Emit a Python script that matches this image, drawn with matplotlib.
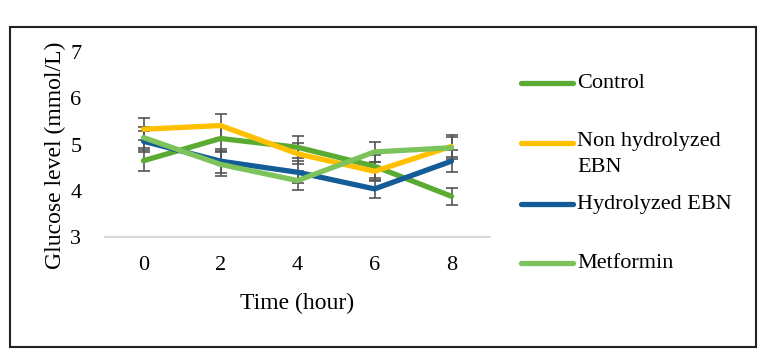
import matplotlib
matplotlib.use('Agg')
import matplotlib.pyplot as plt
from matplotlib.lines import Line2D
from matplotlib.patches import Rectangle

plt.rcParams['font.family'] = ['Liberation Serif', 'DejaVu Serif']

hours = ['0', '2', '4', '6', '8']
series_names = ['Control', 'Non hydrolyzed\nEBN', 'Hydrolyzed EBN', 'Metformin']
control = [4.65, 5.13, 4.94, 4.53, 3.88]
non_hydrolyzed = [5.33, 5.41, 4.80, 4.42, 4.96]
hydrolyzed = [5.07, 4.64, 4.40, 4.04, 4.64]
metformin = [5.15, 4.57, 4.22, 4.84, 4.93]
control_err = [0.23, 0.27, 0.24, 0.25, 0.19]
non_hydrolyzed_err = [0.24, 0.26, 0.23, 0.20, 0.24]
hydrolyzed_err = [0.23, 0.26, 0.24, 0.20, 0.24]
metformin_err = [0.23, 0.26, 0.20, 0.22, 0.24]

values = [control, non_hydrolyzed, hydrolyzed, metformin]
errors = [control_err, non_hydrolyzed_err, hydrolyzed_err, metformin_err]
colors = ['#5aab32', '#ffc000', '#135c98', '#7cc35c']

fig = plt.figure(figsize=(7.68, 3.6), dpi=100)
ax = fig.add_axes([105 / 768, 123 / 360, 385 / 768, 185 / 360])

x = list(range(len(hours)))
for vals, errs in zip(values, errors):
    ax.errorbar(x, vals, yerr=errs, fmt='none', ecolor='#555555', elinewidth=1.2,
                capsize=4, capthick=1.2, zorder=2)
for vals, col in zip(values, colors):
    ax.plot(x, vals, color=col, linewidth=3.8, solid_capstyle='round', zorder=3)

ax.set_xlim(-0.5, 4.5)
ax.set_ylim(3, 7)
ax.set_xticks(x)
ax.set_xticklabels(hours)
ax.set_yticks([3, 4, 5, 6, 7])
ax.tick_params(axis='x', length=0, labelsize=16, pad=14)
ax.tick_params(axis='y', length=0, labelsize=16, pad=17)
for side in ['top', 'right', 'left']:
    ax.spines[side].set_visible(False)
ax.spines['bottom'].set_color('#d9d9d9')
ax.spines['bottom'].set_linewidth(1.5)
ax.set_xlabel('Time (hour)', fontsize=17)
ax.xaxis.set_label_coords(0.5, -0.30)
ax.set_ylabel('Glucose level (mmol/L)', fontsize=17)
ax.yaxis.set_label_coords(-0.10, 0.44)

# legend drawn by hand to match the uneven spacing
legend_y = [83, 143, 204, 263]
for name, col, ly in zip(series_names, colors, legend_y):
    yf = 1 - ly / 360
    fig.add_artist(Line2D([521 / 768, 573 / 768], [yf, yf], color=col, linewidth=3.8,
                          solid_capstyle='round', transform=fig.transFigure))
    if '\n' in name:
        fig.text(577 / 768, yf + 11 / 360, name, fontsize=16, va='top',
                 linespacing=1.5, transform=fig.transFigure)
    else:
        fig.text(577 / 768, yf, name, fontsize=16, va='center', transform=fig.transFigure)

fig.add_artist(Rectangle((10 / 768, 13 / 360), 746 / 768, 320 / 360, fill=False,
                         edgecolor='#222222', linewidth=1.5, transform=fig.transFigure))

fig.savefig('out.png', dpi=100)
